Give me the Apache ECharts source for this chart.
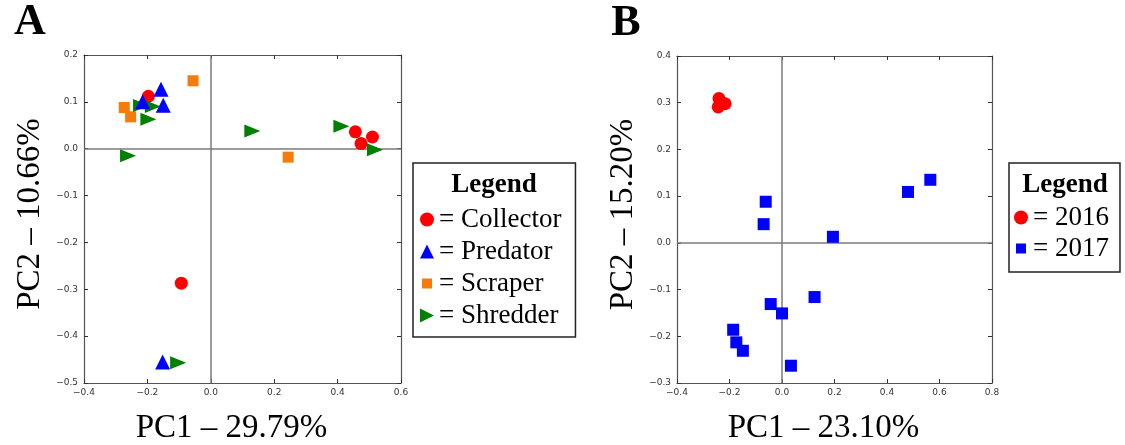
<!DOCTYPE html>
<html><head><meta charset="utf-8">
<script src="https://cdn.jsdelivr.net/npm/echarts@6/dist/echarts.min.js"></script>
<style>html,body{margin:0;padding:0;background:#fff}#c{width:1125px;height:445px}</style>
</head><body><div id="c"></div>
<script>
// ---- data ----
const collector = [[-0.197,0.112],[0.456,0.036],[0.474,0.011],[0.510,0.025],[-0.093,-0.287]];
const predator  = [[-0.157,0.127],[-0.150,0.093],[-0.215,0.100],[-0.152,-0.455]];
const scraper   = [[-0.056,0.145],[-0.273,0.088],[-0.253,0.068],[0.244,-0.018]];
const shredder  = [[-0.220,0.092],[-0.183,0.090],[-0.197,0.063],[-0.261,-0.015],[0.131,0.038],[0.412,0.048],[0.518,-0.002],[-0.103,-0.457]];
const year2016  = [[-0.240,0.309],[-0.243,0.291],[-0.217,0.298],[-0.230,0.300]];
const year2017  = [[-0.062,0.088],[-0.070,0.040],[-0.043,-0.131],[0.000,-0.151],[-0.186,-0.186],[-0.174,-0.213],[-0.149,-0.231],[0.034,-0.263],[0.480,0.109],[0.194,0.013],[0.124,-0.116],[0.565,0.135]];
const groupsA = ['Collector','Predator','Scraper','Shredder'];
const groupsB = ['2016','2017'];
const xRangeA = [-0.4, 0.6, 0.2];
const yRangeA = [-0.5, 0.2, 0.1];
const xRangeB = [-0.4, 0.8, 0.2];
const yRangeB = [-0.3, 0.4, 0.1];
const titlesA = ['PC1 – 29.79%', 'PC2 – 10.66%'];
const titlesB = ['PC1 – 23.10%', 'PC2 – 15.20%'];
const panelLabels = ['A', 'B'];
const legendTitle = 'Legend';

// ---- styling ----
const SERIF = 'Liberation Serif';
const COL = {Collector:'#ff0000', Predator:'#0000ff', Scraper:'#f57b0b', Shredder:'#008000', '2016':'#ff0000', '2017':'#0000ff'};
const RIGHT_TRI = 'path://M0,0L1,0.5L0,1Z';
const fmt = v => (Math.abs(v) < 1e-9 ? 0 : v).toFixed(1).replace('-', '\u2212');

function axisPair(dim, gridIndex, range, title, nameGap) {
  const base = {
    type:'value', gridIndex, min:range[0], max:range[1], interval:range[2],
    axisLine:{show:true, onZero:false, lineStyle:{color:'#555', width:1.2}},
    axisTick:{show:true, inside:true, length:4, lineStyle:{color:'#333', width:1}},
    splitLine:{show:false}
  };
  const main = Object.assign({}, base, {
    position: dim === 'x' ? 'bottom' : 'left',
    axisLabel:{formatter:fmt, fontSize:9, color:'#333', fontFamily:'DejaVu Sans', margin: dim==='x'?5:6},
    name:title, nameLocation:'middle', nameGap,
    nameRotate: dim === 'y' ? 90 : 0,
    nameTextStyle:{fontFamily:SERIF, fontSize:33, color:'#000',
      padding: dim === 'x' ? [0,22,0,0] : [0,0,0,10]}
  });
  const opp = Object.assign({}, base, {
    position: dim === 'x' ? 'top' : 'right',
    axisLabel:{show:false}
  });
  return [main, opp];
}

const xAxes = [...axisPair('x',0,xRangeA,titlesA[0],29), ...axisPair('x',1,xRangeB,titlesB[0],29)];
const yAxes = [...axisPair('y',0,yRangeA,titlesA[1],37), ...axisPair('y',1,yRangeB,titlesB[1],37)];

function zeroLines(xi, yi) {
  return {type:'scatter', xAxisIndex:xi, yAxisIndex:yi, data:[], silent:true,
    markLine:{silent:true, z:1, symbol:'none', animation:false, label:{show:false},
      lineStyle:{color:'#7a7a7a', width:1.5, type:'solid'},
      data:[{xAxis:0},{yAxis:0}]}};
}
function sc(name, data, xi, yi, symbol, size) {
  return {type:'scatter', name, data, xAxisIndex:xi, yAxisIndex:yi, symbol, symbolSize:size,
    itemStyle:{color:COL[name], opacity:1}, z:3, animation:false};
}

const series = [
  zeroLines(0,0), zeroLines(2,2),
  sc('Collector', collector, 0,0,'circle',13),
  sc('Scraper', scraper, 0,0,'rect',11),
  sc('Shredder', shredder, 0,0,RIGHT_TRI,[16,13]),
  sc('Predator', predator, 0,0,'triangle',15),
  sc('2016', year2016, 2,2,'circle',13),
  sc('2017', year2017, 2,2,'rect',12)
];

const legendBase = {orient:'vertical', selectedMode:false, formatter:'= {name}',
  itemWidth:14, itemHeight:14, itemTextGap:5, borderColor:'#222', borderWidth:1.5,
  textStyle:{fontFamily:SERIF, fontSize:27, color:'#000'}};
const SMALL_SQ = 'path://M0,0M14,14M2,2L12,2L12,12L2,12Z';
const iconOf = {Collector:'circle', Predator:'triangle', Scraper:SMALL_SQ, Shredder:RIGHT_TRI,
  '2016':'circle', '2017':SMALL_SQ};

const option = {
  backgroundColor:'#fff',
  animation:false,
  grid:[
    {left:84, top:55, width:317, height:328, outerBoundsMode:'none', containLabel:false},
    {left:677, top:56, width:315, height:327, outerBoundsMode:'none', containLabel:false}
  ],
  xAxis:xAxes, yAxis:yAxes,
  legend:[
    Object.assign({}, legendBase, {left:413, top:163, itemGap:5, padding:[43,14,8,7],
      data:groupsA.map(n => ({name:n, icon:iconOf[n]}))}),
    Object.assign({}, legendBase, {left:1009, top:163, itemGap:4, padding:[41,11,10,5],
      data:groupsB.map(n => ({name:n, icon:iconOf[n]}))})
  ],
  graphic:[
    {type:'text', x:494, y:185, style:{text:legendTitle, font:'bold 27px "Liberation Serif"', fill:'#000', align:'center', verticalAlign:'middle'}},
    {type:'text', x:1065, y:185, style:{text:legendTitle, font:'bold 27px "Liberation Serif"', fill:'#000', align:'center', verticalAlign:'middle'}},
    {type:'text', x:30, y:23, style:{text:panelLabels[0], font:'bold 44px "Liberation Serif"', fill:'#000', align:'center', verticalAlign:'middle'}},
    {type:'text', x:626, y:24, style:{text:panelLabels[1], font:'bold 44px "Liberation Serif"', fill:'#000', align:'center', verticalAlign:'middle'}}
  ],
  series
};
const chart = echarts.init(document.getElementById('c'), null, {renderer:'canvas'});
chart.setOption(option);
</script>
</body></html>
